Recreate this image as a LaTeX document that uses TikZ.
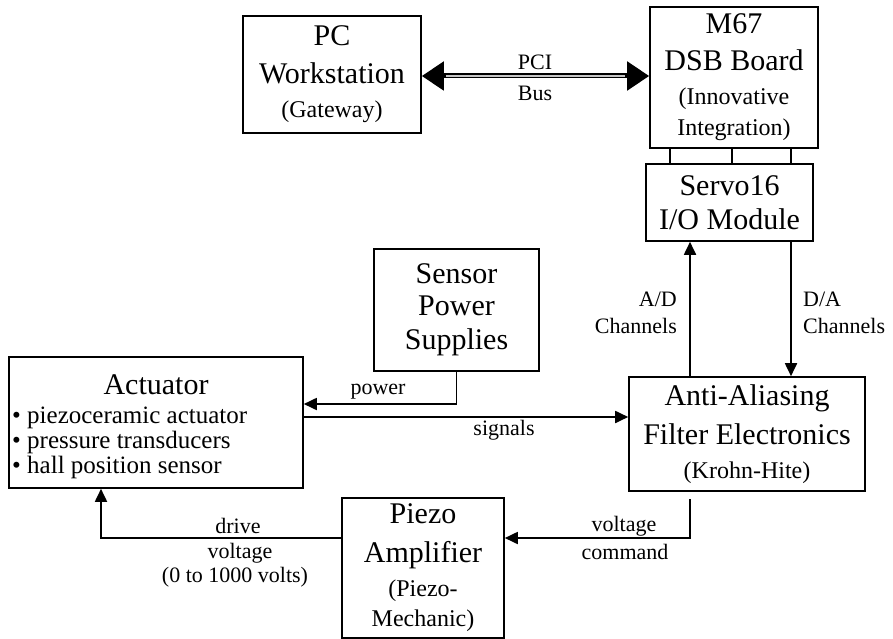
\documentclass[tikz,border=0pt]{standalone}
\usepackage{fontspec}
\setmainfont{Liberation Serif}
\usetikzlibrary{arrows.meta}
\newcommand\BoxBig{\fontsize{30}{34}\selectfont}
\newcommand\BoxMed{\fontsize{24}{30}\selectfont}
\newcommand\LblFont{\fontsize{22}{25}\selectfont}
\begin{document}
\begin{tikzpicture}[x=1pt,y=-1pt,
  box/.style={draw, line width=1.6pt, align=center, inner sep=0pt, font=\BoxBig},
  arr/.style={line width=1.8pt, -{Triangle[length=13pt,width=12pt]}},
  conn/.style={line width=1.8pt},
  lbl/.style={font=\LblFont, inner sep=0pt},
  blt/.style={font=\fontsize{25}{30}\selectfont, inner sep=0pt, align=left}]
\useasboundingbox (0,0) rectangle (893,639);

% boxes
\node[box, minimum width=178pt, minimum height=117pt] (pc) at (332,74.5)
  {PC\\[4pt]Workstation\\\BoxMed (Gateway)};
\node[box, minimum width=168pt, minimum height=141pt] (m67) at (734,77.5)
  {M67\\[3pt]DSB Board\\[0pt]\BoxMed (Innovative\\[-3pt]\BoxMed Integration)};
\node[box, minimum width=167pt, minimum height=77pt] (servo) at (729.5,202.5)
  {Servo16\\I/O Module};
\node[box, minimum width=165pt, minimum height=122pt] (sps) at (456.5,310)
  {Sensor\\[-2pt]Power\\Supplies};
\node[box, minimum width=294pt, minimum height=131pt] (act) at (156,422.5) {};
\node[inner sep=0pt, font=\BoxBig] (acttitle) at (156,385) {Actuator};
\node[blt, anchor=west] (actlist) at (12,443)
  {• piezoceramic actuator\\[-5pt]• pressure transducers\\[-5pt]• hall position sensor};
\node[box, minimum width=236pt, minimum height=114pt] (aa) at (747,434)
  {Anti-Aliasing\\[5pt]Filter Electronics\\\BoxMed (Krohn-Hite)};
\node[box, minimum width=162pt, minimum height=140pt] (piezo) at (423,568)
  {Piezo\\[5pt]Amplifier\\\BoxMed (Piezo-\\[-4pt]\BoxMed Mechanic)};

% helper coordinates
\coordinate (ypci) at (0,76);
\coordinate (b1) at (670,0);
\coordinate (b2) at (732,0);
\coordinate (b3) at (791,0);
\coordinate (xad) at (690,0);
\coordinate (xda) at (791,0);
\coordinate (ypow) at (0,404);
\coordinate (ysig) at (0,417);
\coordinate (yvc) at (0,538);
\coordinate (xdr) at (101,0);
\coordinate (vcstart) at (690,499);

% PCI bus
\draw[line width=5pt, {Triangle[length=22pt,width=28pt]}-{Triangle[length=22pt,width=28pt]}]
  (pc.east |- ypci) -- (m67.west |- ypci);
\draw[line width=1.4pt, gray!45, shorten <=24pt, shorten >=24pt]
  (pc.east |- ypci) -- (m67.west |- ypci);

% M67 to Servo
\draw[conn] (m67.south -| b1) -- (servo.north -| b1);
\draw[conn] (m67.south -| b2) -- (servo.north -| b2);
\draw[conn] (m67.south -| b3) -- (servo.north -| b3);

% A/D and D/A
\draw[arr] (aa.north -| xad) -- (servo.south -| xad);
\draw[arr] (servo.south -| xda) -- (aa.north -| xda);

% power, signals
\draw[arr] (sps.south) |- (act.east |- ypow);
\draw[arr] (act.east |- ysig) -- (aa.west |- ysig);

% voltage command, drive
\draw[arr] (vcstart) |- (piezo.east |- yvc);
\draw[arr] (piezo.west |- yvc) -| (act.south -| xdr);

% labels
\node[lbl] (pcil) at (535,62) {PCI};
\node[lbl] (busl) at (535,93) {Bus};
\node[lbl, anchor=east] (adl1) at (677,299) {A/D};
\node[lbl, anchor=east] (adl2) at (677,326) {Channels};
\node[lbl, anchor=west] (dal1) at (803,299) {D/A};
\node[lbl, anchor=west] (dal2) at (803,326) {Channels};
\node[lbl] (powl) at (378,392) {power};
\node[lbl] (sigl) at (504,430) {signals};
\node[lbl] (vcl1) at (624,526) {voltage};
\node[lbl] (vcl2) at (625,552) {command};
\node[lbl] (drl1) at (238,526) {drive};
\node[lbl] (drl2) at (240,553) {voltage};
\node[lbl] (drl3) at (235,577) {(0 to 1000 volts)};
\end{tikzpicture}
\end{document}
